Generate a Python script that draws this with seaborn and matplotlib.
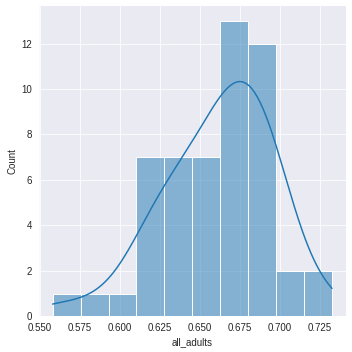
import matplotlib
matplotlib.use("Agg")
import matplotlib.pyplot as plt
import seaborn as sns
import pandas as pd

all_adults = [
    0.5579,
    0.584,
    0.604,
    0.613, 0.616, 0.619, 0.622, 0.624, 0.626, 0.627,
    0.633, 0.636, 0.639, 0.641, 0.643, 0.644, 0.645,
    0.650, 0.653, 0.656, 0.658, 0.660, 0.661, 0.662,
    0.664, 0.666, 0.667, 0.669, 0.670, 0.672, 0.673, 0.674, 0.676, 0.677, 0.678, 0.679, 0.680,
    0.683, 0.685, 0.687, 0.688, 0.689, 0.691, 0.692, 0.693, 0.694, 0.695, 0.696, 0.697,
    0.699, 0.703,
    0.717, 0.7325,
]

df = pd.DataFrame({"all_adults": all_adults})

sns.set_style("darkgrid")
plt.rcParams["font.family"] = ["Liberation Sans", "DejaVu Sans"]
g = sns.displot(data=df, x="all_adults", kde=True, bins=10, height=5, aspect=1,
                kde_kws={"bw_adjust": 1.2})
g.figure.subplots_adjust(left=0.110, right=0.983, bottom=0.101, top=0.983)
g.figure.savefig("out.png", dpi=70.4)
